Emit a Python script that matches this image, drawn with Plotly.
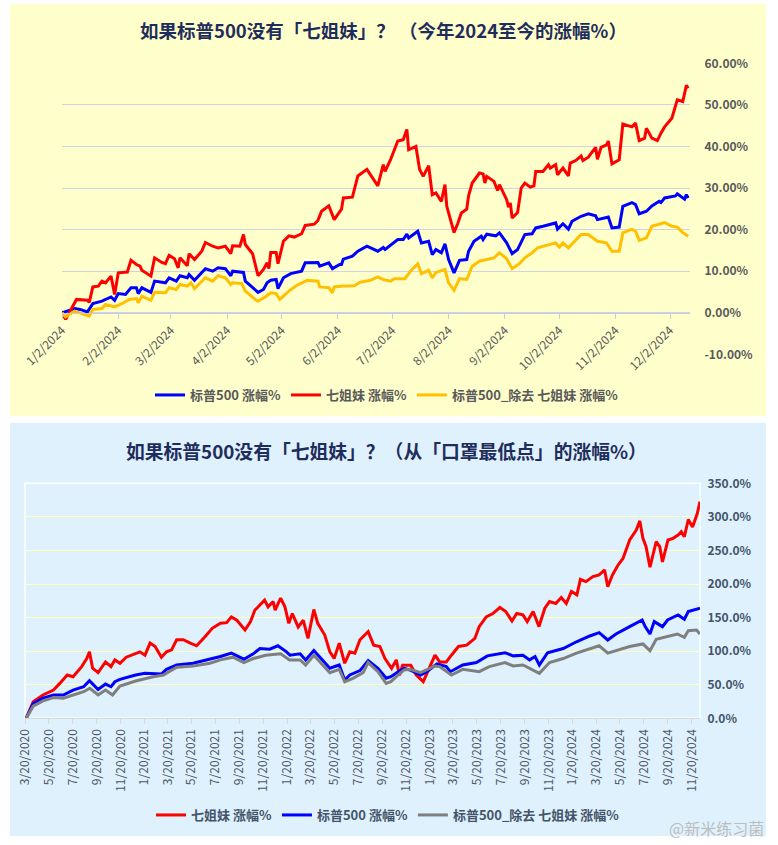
import plotly.graph_objects as go

# ---- top chart: YTD 2024 (%)
top_sp_dates = ["2024-01-02", "2024-01-09", "2024-01-12", "2024-01-16", "2024-01-19", "2024-01-24", "2024-01-29", "2024-01-31",
                "2024-02-02", "2024-02-06", "2024-02-09", "2024-02-12", "2024-02-13", "2024-02-15", "2024-02-20", "2024-02-22",
                "2024-02-28", "2024-03-01", "2024-03-05", "2024-03-07", "2024-03-11", "2024-03-12", "2024-03-15", "2024-03-21",
                "2024-03-25", "2024-03-28", "2024-04-01", "2024-04-04", "2024-04-05", "2024-04-09", "2024-04-11", "2024-04-12",
                "2024-04-19", "2024-04-22", "2024-04-24", "2024-04-26", "2024-04-29", "2024-04-30", "2024-05-03", "2024-05-07",
                "2024-05-13", "2024-05-15", "2024-05-22", "2024-05-23", "2024-05-28", "2024-05-30", "2024-06-03", "2024-06-04",
                "2024-06-05", "2024-06-10", "2024-06-13", "2024-06-18", "2024-06-24", "2024-06-27", "2024-06-28", "2024-07-05",
                "2024-07-08", "2024-07-10", "2024-07-11", "2024-07-16", "2024-07-18", "2024-07-22", "2024-07-24", "2024-07-26",
                "2024-07-29", "2024-07-31", "2024-08-02", "2024-08-05", "2024-08-08", "2024-08-12", "2024-08-13", "2024-08-16",
                "2024-08-20", "2024-08-21", "2024-08-23", "2024-08-28", "2024-08-30", "2024-09-03", "2024-09-06", "2024-09-09",
                "2024-09-13", "2024-09-17", "2024-09-19", "2024-09-23", "2024-09-26", "2024-09-30", "2024-10-01", "2024-10-04",
                "2024-10-07", "2024-10-09", "2024-10-14", "2024-10-18", "2024-10-22", "2024-10-23", "2024-10-28", "2024-10-29",
                "2024-10-31", "2024-11-04", "2024-11-06", "2024-11-11", "2024-11-13", "2024-11-15", "2024-11-19", "2024-11-22",
                "2024-11-26", "2024-11-27", "2024-11-29", "2024-12-05", "2024-12-06", "2024-12-10", "2024-12-11", "2024-12-12"]
top_sp = [0, 1.0, 0.8, 0.2, 2.2, 2.8, 3.8, 3.0,
          4.6, 4.4, 6.0, 6.0, 4.6, 6.0, 4.9, 7.6,
          7.2, 8.4, 7.6, 8.9, 8.4, 9.2, 7.8, 10.6,
          10.0, 10.8, 10.6, 8.9, 10.0, 9.8, 9.7, 7.6,
          4.9, 5.6, 7.2, 7.8, 8.0, 5.8, 8.4, 9.4,
          10.0, 12.0, 12.1, 11.2, 12.0, 10.6, 11.6, 11.6,
          12.9, 13.6, 14.8, 16.0, 14.8, 15.7, 15.2, 17.6,
          17.6, 18.9, 18.0, 19.6, 16.8, 17.2, 14.0, 15.2,
          14.4, 16.6, 12.8, 9.6, 12.6, 12.8, 14.8, 17.2,
          18.4, 17.6, 18.9, 18.5, 19.2, 16.8, 14.2, 15.2,
          18.8, 19.0, 20.4, 20.8, 21.2, 21.6, 20.1, 21.4,
          20.1, 22.0, 23.2, 23.8, 23.3, 22.4, 22.9, 23.0,
          20.4, 20.6, 25.6, 26.5, 26.0, 23.8, 24.4, 25.7,
          26.8, 26.5, 27.6, 28.1, 28.6, 27.3, 28.4, 27.6]

top_m7_dates = ["2024-01-02", "2024-01-04", "2024-01-10", "2024-01-16", "2024-01-17", "2024-01-19", "2024-01-22", "2024-01-24",
                "2024-01-26", "2024-01-29", "2024-01-31", "2024-02-02", "2024-02-07", "2024-02-09", "2024-02-12", "2024-02-14",
                "2024-02-15", "2024-02-20", "2024-02-22", "2024-02-26", "2024-02-28", "2024-03-01", "2024-03-04", "2024-03-06",
                "2024-03-07", "2024-03-11", "2024-03-12", "2024-03-15", "2024-03-19", "2024-03-21", "2024-03-25", "2024-03-28",
                "2024-04-01", "2024-04-04", "2024-04-05", "2024-04-09", "2024-04-11", "2024-04-12", "2024-04-16", "2024-04-19",
                "2024-04-22", "2024-04-24", "2024-04-25", "2024-04-26", "2024-04-29", "2024-04-30", "2024-05-03", "2024-05-06",
                "2024-05-09", "2024-05-13", "2024-05-15", "2024-05-20", "2024-05-22", "2024-05-24", "2024-05-28", "2024-05-31",
                "2024-06-04", "2024-06-05", "2024-06-10", "2024-06-13", "2024-06-18", "2024-06-24", "2024-06-27", "2024-06-28",
                "2024-07-01", "2024-07-05", "2024-07-08", "2024-07-10", "2024-07-11", "2024-07-15", "2024-07-17", "2024-07-19",
                "2024-07-22", "2024-07-24", "2024-07-26", "2024-07-29", "2024-07-31", "2024-08-01", "2024-08-05", "2024-08-07",
                "2024-08-09", "2024-08-12", "2024-08-13", "2024-08-15", "2024-08-19", "2024-08-21", "2024-08-22", "2024-08-23",
                "2024-08-27", "2024-08-29", "2024-08-30", "2024-09-03", "2024-09-04", "2024-09-05", "2024-09-06", "2024-09-09",
                "2024-09-11", "2024-09-13", "2024-09-16", "2024-09-18", "2024-09-19", "2024-09-23", "2024-09-26", "2024-09-27",
                "2024-09-30", "2024-10-01", "2024-10-04", "2024-10-07", "2024-10-08", "2024-10-11", "2024-10-14", "2024-10-15",
                "2024-10-18", "2024-10-22", "2024-10-23", "2024-10-25", "2024-10-28", "2024-10-29", "2024-10-31", "2024-11-04",
                "2024-11-06", "2024-11-11", "2024-11-13", "2024-11-15", "2024-11-18", "2024-11-19", "2024-11-22", "2024-11-25",
                "2024-11-27", "2024-11-29", "2024-12-03", "2024-12-05", "2024-12-06", "2024-12-09", "2024-12-11", "2024-12-12"]
top_m7 = [0, -1.6, 3.2, 3.0, 2.5, 6.2, 6.4, 7.6,
          7.2, 8.8, 4.4, 9.6, 9.8, 12.6, 11.6, 11.2,
          10.2, 8.8, 13.2, 12.1, 11.8, 13.8, 13.0, 10.8,
          13.2, 11.3, 14.2, 12.8, 14.8, 16.9, 16.0, 15.6,
          16.0, 14.2, 16.1, 16.0, 18.8, 16.4, 14.2, 8.9,
          10.4, 12.0, 10.6, 14.5, 14.5, 11.8, 17.2, 18.5,
          18.2, 19.0, 21.0, 21.3, 22.2, 24.4, 25.7, 22.4,
          24.9, 27.6, 27.8, 32.9, 34.5, 30.5, 35.6, 34.0,
          36.8, 41.3, 41.6, 44.1, 39.2, 40.0, 34.5, 32.8,
          35.4, 28.4, 28.8, 26.8, 30.8, 25.6, 19.3, 21.4,
          24.0, 24.9, 28.1, 31.2, 33.6, 33.4, 31.2, 32.8,
          31.6, 29.4, 30.8, 27.2, 25.4, 26.4, 22.8, 24.1,
          30.0, 31.2, 30.2, 30.5, 34.0, 34.0, 35.6, 34.8,
          35.6, 33.2, 34.8, 32.9, 36.0, 36.6, 37.7, 36.6,
          37.4, 39.8, 36.9, 39.8, 40.4, 41.3, 35.8, 36.8,
          45.4, 44.7, 45.6, 41.4, 42.0, 44.4, 42.0, 41.4,
          43.2, 44.7, 46.8, 50.0, 51.2, 50.8, 54.7, 54.0]

top_ex_dates = ["2024-01-02", "2024-01-04", "2024-01-09", "2024-01-12", "2024-01-17", "2024-01-19", "2024-01-24", "2024-01-26",
                "2024-01-31", "2024-02-05", "2024-02-08", "2024-02-12", "2024-02-13", "2024-02-15", "2024-02-20", "2024-02-22",
                "2024-02-28", "2024-03-01", "2024-03-05", "2024-03-07", "2024-03-11", "2024-03-13", "2024-03-15", "2024-03-21",
                "2024-03-25", "2024-03-28", "2024-04-01", "2024-04-04", "2024-04-05", "2024-04-10", "2024-04-12", "2024-04-18",
                "2024-04-19", "2024-04-23", "2024-04-26", "2024-04-29", "2024-05-01", "2024-05-06", "2024-05-10", "2024-05-16",
                "2024-05-22", "2024-05-23", "2024-05-28", "2024-05-30", "2024-05-31", "2024-06-05", "2024-06-11", "2024-06-14",
                "2024-06-20", "2024-06-24", "2024-06-27", "2024-07-01", "2024-07-03", "2024-07-09", "2024-07-12", "2024-07-16",
                "2024-07-18", "2024-07-22", "2024-07-24", "2024-07-26", "2024-07-31", "2024-08-02", "2024-08-05", "2024-08-08",
                "2024-08-12", "2024-08-15", "2024-08-19", "2024-08-23", "2024-08-27", "2024-08-30", "2024-09-03", "2024-09-06",
                "2024-09-10", "2024-09-13", "2024-09-17", "2024-09-20", "2024-09-26", "2024-09-30", "2024-10-02", "2024-10-04",
                "2024-10-07", "2024-10-14", "2024-10-18", "2024-10-23", "2024-10-28", "2024-10-31", "2024-11-04", "2024-11-06",
                "2024-11-11", "2024-11-13", "2024-11-15", "2024-11-19", "2024-11-22", "2024-11-26", "2024-11-29", "2024-12-03",
                "2024-12-06", "2024-12-09", "2024-12-12"]
top_ex = [0, -1.0, 0.4, 0.0, -0.8, 0.8, 1.0, 2.0,
          1.4, 2.4, 3.2, 3.4, 2.4, 4.0, 3.0, 4.9,
          4.8, 6.0, 5.6, 6.8, 6.4, 7.2, 5.8, 8.4,
          7.6, 8.9, 8.4, 6.8, 7.2, 7.0, 5.2, 3.0,
          2.8, 3.8, 4.8, 4.6, 3.2, 5.2, 6.5, 7.8,
          7.6, 6.2, 6.0, 4.8, 6.2, 6.4, 6.5, 7.3,
          7.8, 8.6, 8.0, 7.6, 8.2, 8.2, 10.0, 11.8,
          9.4, 10.2, 8.4, 9.7, 10.4, 7.2, 5.4, 8.2,
          8.0, 11.2, 12.4, 12.8, 13.2, 14.4, 13.0, 10.6,
          11.8, 13.2, 14.4, 15.6, 16.4, 16.8, 15.8, 16.8,
          15.6, 18.8, 18.8, 17.2, 16.8, 14.8, 14.8, 19.2,
          20.1, 19.6, 17.4, 18.0, 20.8, 21.4, 21.7, 20.8,
          20.6, 19.3, 18.4]

top_yticks = [-10, 0, 10, 20, 30, 40, 50, 60]

# ---- bottom chart: since the 2020 covid low (%)
bot_m7_dates = ["2020-03-23", "2020-04-10", "2020-05-05", "2020-06-01", "2020-06-17", "2020-07-06", "2020-07-21", "2020-08-12",
                "2020-08-25", "2020-09-01", "2020-09-09", "2020-09-23", "2020-10-12", "2020-10-26", "2020-11-05", "2020-11-18",
                "2020-12-04", "2020-12-28", "2021-01-08", "2021-01-21", "2021-02-03", "2021-02-16", "2021-03-04", "2021-03-17",
                "2021-03-30", "2021-04-12", "2021-04-29", "2021-05-17", "2021-06-02", "2021-06-23", "2021-07-12", "2021-08-02",
                "2021-08-18", "2021-08-30", "2021-09-13", "2021-10-04", "2021-10-18", "2021-10-29", "2021-11-11", "2021-11-23",
                "2021-12-02", "2021-12-15", "2021-12-20", "2022-01-03", "2022-01-14", "2022-01-24", "2022-02-02", "2022-02-17",
                "2022-03-02", "2022-03-14", "2022-03-29", "2022-04-08", "2022-04-26", "2022-05-09", "2022-05-20", "2022-06-02",
                "2022-06-16", "2022-06-29", "2022-07-12", "2022-07-25", "2022-08-15", "2022-08-29", "2022-09-14", "2022-09-27",
                "2022-10-14", "2022-10-26", "2022-11-03", "2022-11-11", "2022-12-02", "2022-12-16", "2023-01-03", "2023-01-13",
                "2023-02-02", "2023-02-14", "2023-03-03", "2023-03-16", "2023-04-03", "2023-04-24", "2023-05-15", "2023-05-26",
                "2023-06-13", "2023-06-30", "2023-07-18", "2023-08-02", "2023-08-18", "2023-08-30", "2023-09-15", "2023-09-26",
                "2023-10-11", "2023-10-26", "2023-11-10", "2023-11-22", "2023-12-08", "2023-12-22", "2024-01-04", "2024-01-17",
                "2024-01-31", "2024-02-09", "2024-02-23", "2024-03-12", "2024-03-28", "2024-04-11", "2024-04-19", "2024-05-01",
                "2024-05-15", "2024-05-28", "2024-06-14", "2024-07-01", "2024-07-10", "2024-07-18", "2024-07-26", "2024-08-05",
                "2024-08-21", "2024-08-30", "2024-09-06", "2024-09-20", "2024-10-03", "2024-10-16", "2024-10-24", "2024-11-01",
                "2024-11-11", "2024-11-22", "2024-12-04", "2024-12-11"]
bot_m7 = [0, 24.7, 34.7, 42, 52, 64.5, 62, 77,
          89, 99, 74.5, 68, 84, 77, 87, 82,
          91, 96, 99, 94, 112, 107, 91, 99,
          102, 117, 117, 112, 108, 121, 134, 141.5,
          142.4, 151, 146, 131.5, 144, 161, 169, 176,
          166, 174, 161, 179, 166, 141.5, 156, 136,
          146, 119, 162, 141.5, 124, 99, 89, 112,
          82, 99, 97, 117, 129, 109, 107, 89,
          74.5, 87, 64, 79, 79, 64.5, 54.5, 67,
          94, 84, 84, 94, 107, 109, 119, 136.5,
          151, 156, 165, 159, 145, 156, 154, 144,
          159, 136.5, 164, 174, 171, 180, 171, 189,
          184, 207, 203.5, 211, 213.5, 221, 196, 213.5,
          228, 238, 265.5, 280.5, 294, 268, 255.6, 225,
          263, 255.6, 233, 265.5, 268, 273, 278, 270.5,
          296, 285, 305, 322.6]

bot_sp_dates = ["2020-03-23", "2020-04-10", "2020-05-05", "2020-06-01", "2020-06-26", "2020-07-21", "2020-08-17", "2020-09-01",
                "2020-09-23", "2020-10-12", "2020-10-26", "2020-11-05", "2020-11-18", "2020-12-28", "2021-01-21", "2021-02-11",
                "2021-03-04", "2021-03-17", "2021-04-12", "2021-05-24", "2021-07-06", "2021-08-02", "2021-08-30", "2021-10-01",
                "2021-10-25", "2021-11-11", "2021-12-06", "2021-12-27", "2022-01-18", "2022-01-27", "2022-02-22", "2022-03-08",
                "2022-03-29", "2022-04-13", "2022-05-09", "2022-06-02", "2022-06-16", "2022-06-29", "2022-07-25", "2022-08-15",
                "2022-09-09", "2022-09-30", "2022-10-12", "2022-10-31", "2022-11-15", "2022-11-30", "2022-12-27", "2023-01-12",
                "2023-02-07", "2023-03-03", "2023-03-13", "2023-04-14", "2023-05-19", "2023-06-16", "2023-07-31", "2023-08-21",
                "2023-09-15", "2023-10-02", "2023-10-16", "2023-10-27", "2023-11-17", "2023-12-27", "2024-01-30", "2024-03-04",
                "2024-03-28", "2024-04-19", "2024-05-10", "2024-06-14", "2024-07-16", "2024-07-23", "2024-08-05", "2024-08-16",
                "2024-09-06", "2024-09-19", "2024-10-16", "2024-11-01", "2024-11-11", "2024-12-11"]
bot_sp = [0, 22, 30, 34.7, 34.7, 42, 47, 56,
          43, 51, 47, 54.5, 58, 64.5, 67, 66,
          66, 73, 79.4, 82, 88, 92, 97, 88,
          96, 104, 103, 108, 99, 94, 96, 87,
          101, 91, 74.5, 79.4, 57, 64.5, 71, 86,
          74.5, 59.6, 62, 69.4, 74.5, 72, 64.5, 69.4,
          81, 77, 69.4, 79.4, 83, 93, 97.7, 93,
          94, 87, 92, 79.4, 97.7, 104, 114, 122.6,
          127.5, 116.6, 125.6, 136.5, 146.4, 137.5, 125.6, 144,
          136.5, 146.4, 154, 147.5, 159, 164]

bot_ex_dates = ["2020-03-23", "2020-04-10", "2020-05-05", "2020-06-01", "2020-06-26", "2020-07-21", "2020-08-17", "2020-09-02",
                "2020-09-23", "2020-10-12", "2020-10-30", "2020-11-18", "2020-12-28", "2021-02-11", "2021-03-09", "2021-04-12",
                "2021-05-24", "2021-07-06", "2021-08-02", "2021-09-03", "2021-10-01", "2021-10-25", "2021-11-26", "2022-01-03",
                "2022-01-26", "2022-02-22", "2022-03-08", "2022-03-29", "2022-04-18", "2022-05-09", "2022-06-02", "2022-06-16",
                "2022-07-07", "2022-08-02", "2022-08-15", "2022-09-09", "2022-09-30", "2022-10-12", "2022-10-31", "2022-11-15",
                "2022-11-30", "2022-12-27", "2023-02-02", "2023-02-14", "2023-03-16", "2023-04-14", "2023-05-26", "2023-06-21",
                "2023-07-31", "2023-08-21", "2023-09-15", "2023-10-11", "2023-10-27", "2023-11-22", "2023-12-27", "2024-01-30",
                "2024-03-04", "2024-03-28", "2024-04-19", "2024-05-20", "2024-06-14", "2024-07-18", "2024-08-05", "2024-08-21",
                "2024-09-19", "2024-10-14", "2024-11-01", "2024-11-11", "2024-12-02", "2024-12-11"]
bot_ex = [0, 18, 26, 31, 30, 34.7, 39.6, 44.7,
          34.7, 42, 34.7, 48, 55.5, 62, 64.5, 76,
          78, 82, 87, 91, 83, 89, 94, 96,
          87, 87, 79.4, 94, 82, 68, 73, 54.5,
          59.6, 68, 83, 69.4, 52, 54.5, 64.5, 72,
          73, 68, 78, 77, 64.5, 73, 69.4, 77,
          83, 78, 79.4, 72, 67, 83, 89, 97,
          104, 108, 97, 102, 107, 110.7, 100.7, 117.7,
          121.5, 125.6, 120.6, 130.5, 131.5, 125.6]

bot_yticks = [0, 50, 100, 150, 200, 250, 300, 350]

W, H = 778, 845
FONT = "Noto Sans CJK SC, Noto Sans, sans-serif"

fig = go.Figure()

# top chart traces
fig.add_trace(go.Scatter(x=top_sp_dates, y=top_sp, name="标普500 涨幅%", mode="lines",
                         line=dict(color="#0000FF", width=3), xaxis="x", yaxis="y", legend="legend"))
fig.add_trace(go.Scatter(x=top_m7_dates, y=top_m7, name="七姐妹 涨幅%", mode="lines",
                         line=dict(color="#FF0000", width=3), xaxis="x", yaxis="y", legend="legend"))
fig.add_trace(go.Scatter(x=top_ex_dates, y=top_ex, name="标普500_除去 七姐妹 涨幅%", mode="lines",
                         line=dict(color="#FFC000", width=3), xaxis="x", yaxis="y", legend="legend"))

# bottom chart traces
fig.add_trace(go.Scatter(x=bot_m7_dates, y=bot_m7, name="七姐妹 涨幅%", mode="lines",
                         line=dict(color="#FF0000", width=3), xaxis="x2", yaxis="y2", legend="legend2"))
fig.add_trace(go.Scatter(x=bot_sp_dates, y=bot_sp, name="标普500 涨幅%", mode="lines",
                         line=dict(color="#0000FF", width=3), xaxis="x2", yaxis="y2", legend="legend2"))
fig.add_trace(go.Scatter(x=bot_ex_dates, y=bot_ex, name="标普500_除去 七姐妹 涨幅%", mode="lines",
                         line=dict(color="#7F7F7F", width=3), xaxis="x2", yaxis="y2", legend="legend2"))

top_dom = [1 - 354.3 / H, 1 - 63.3 / H]
top_zero = top_dom[0] + (10 / 70) * (top_dom[1] - top_dom[0])

fig.update_layout(
    width=W, height=H,
    margin=dict(l=0, r=0, t=0, b=0, autoexpand=False),
    paper_bgcolor="white", plot_bgcolor="rgba(0,0,0,0)",
    font=dict(family=FONT),
    xaxis=dict(domain=[62 / W, 690 / W], anchor="free", position=top_zero, type="date",
               range=["2024-01-02", "2024-12-13"], tick0="2024-01-02", dtick="M1",
               tickformat="%-m/%-d/%Y", tickangle=-45, ticks="outside", ticklen=5,
               tickcolor="#C8CCDD", showline=True, linecolor="#C8CCDD", showgrid=False,
               automargin=False, tickfont=dict(size=12, color="#595959")),
    yaxis=dict(domain=top_dom, anchor="x", side="right", range=[-10, 60],
               tickvals=top_yticks, ticktext=[f"{v:.2f}%" for v in top_yticks],
               showgrid=True, gridcolor="#CFD2E6", zeroline=False, ticks="outside", ticklen=11,
               tickcolor="rgba(0,0,0,0)", automargin=False,
               tickfont=dict(size=12, color="#595959", weight="bold")),
    xaxis2=dict(domain=[25 / W, 700 / W], anchor="y2", type="date",
                range=["2020-03-20", "2024-12-11"], tick0="2020-03-20", dtick="M2",
                tickformat="%-m/%-d/%Y", tickangle=-90, ticks="outside", ticklen=5,
                tickcolor="#D9D9D9", showline=True, linecolor="#D9D9D9", showgrid=False,
                automargin=False, tickfont=dict(size=12, color="#4E5668")),
    yaxis2=dict(domain=[1 - 718.3 / H, 1 - 483.3 / H], anchor="x2", side="right", range=[0, 350],
                tickvals=bot_yticks, ticktext=[f"{v:.1f}%" for v in bot_yticks],
                showgrid=True, gridcolor="#FFFFC0", zeroline=False, ticks="outside", ticklen=4,
                tickcolor="rgba(0,0,0,0)", automargin=False,
                tickfont=dict(size=12, color="#44546A", weight="bold")),
    legend=dict(orientation="h", x=387 / W, xanchor="center", y=1 - 395 / H, yanchor="middle",
                bgcolor="rgba(0,0,0,0)", font=dict(size=13, color="#595959", weight="bold"),
                itemwidth=30),
    legend2=dict(orientation="h", x=388 / W, xanchor="center", y=1 - 815 / H, yanchor="middle",
                 bgcolor="rgba(0,0,0,0)", font=dict(size=13, color="#44546A", weight="bold"),
                 itemwidth=30),
    shapes=[
        dict(type="rect", xref="paper", yref="paper", x0=10 / W, x1=766 / W, y0=1 - 416 / H, y1=1 - 4 / H,
             fillcolor="#FFFFCC", line=dict(width=0), layer="below"),
        dict(type="rect", xref="paper", yref="paper", x0=10 / W, x1=766 / W, y0=1 - 836 / H, y1=1 - 423 / H,
             fillcolor="#DEF1FC", line=dict(width=0), layer="below"),
        dict(type="rect", xref="x2 domain", yref="y2 domain", x0=0, x1=1, y0=0, y1=1,
             line=dict(color="white", width=1.5), layer="below"),
    ],
    annotations=[
        dict(text="如果标普500没有「七姐妹」？ （今年2024至今的涨幅%）", xref="paper", yref="paper",
             x=383 / W, y=1 - 30 / H, showarrow=False, xanchor="center", yanchor="middle",
             font=dict(size=18.5, color="#1F2D5C", weight="bold")),
        dict(text="如果标普500没有「七姐妹」？（从「口罩最低点」的涨幅%）", xref="paper", yref="paper",
             x=386 / W, y=1 - 450 / H, showarrow=False, xanchor="center", yanchor="middle",
             font=dict(size=18.8, color="#1F2D5C", weight="bold")),
        dict(text="@新米练习菌", xref="paper", yref="paper", x=766 / W, y=1 - 828 / H,
             showarrow=False, xanchor="right", yanchor="middle",
             font=dict(size=16, color="#BDBDBD")),
    ],
)

# drop the browser's default body margin so the figure sits at the page corner
fig.write_html("out.html", config={"displayModeBar": False},
               post_script="document.body.style.margin='0';")
